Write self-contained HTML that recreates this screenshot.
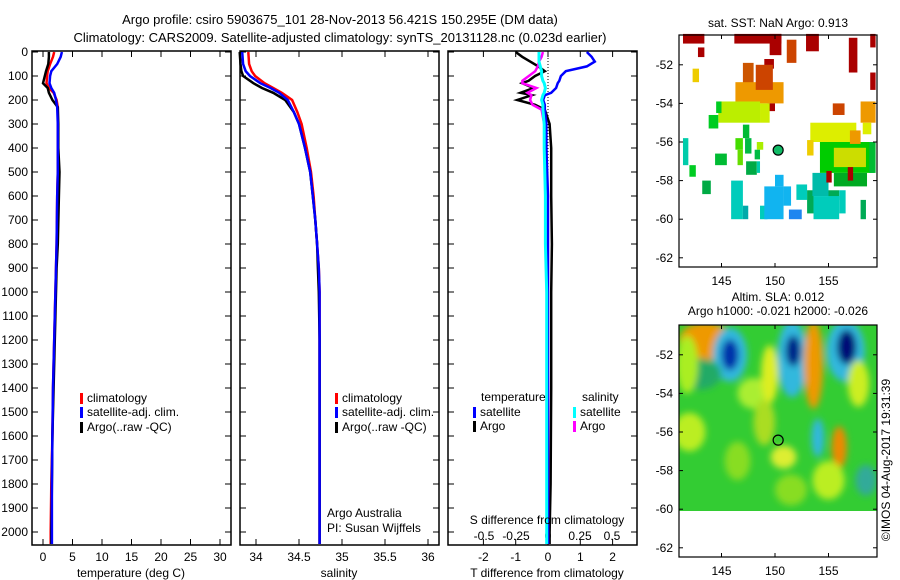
<!DOCTYPE html>
<html><head><meta charset="utf-8">
<style>
html,body{margin:0;padding:0;background:#fff;}
svg{display:block;font-family:"Liberation Sans",sans-serif;}
text{font-size:12px;fill:#000;}
</style></head>
<body>
<svg id="fig" width="900" height="580" viewBox="0 0 900 580" xmlns="http://www.w3.org/2000/svg">
<defs>
<filter id="blur" x="-20%" y="-20%" width="140%" height="140%"><feGaussianBlur stdDeviation="3.5"/></filter>
<clipPath id="slaclip"><rect x="679" y="325" width="198" height="186"/></clipPath>
</defs>
<text x="340" y="24" text-anchor="middle" style="font-size:13px">Argo profile: csiro 5903675_101 28-Nov-2013 56.421S 150.295E (DM data)</text>
<text x="340" y="42" text-anchor="middle" style="font-size:13px">Climatology: CARS2009. Satellite-adjusted climatology: synTS_20131128.nc (0.023d earlier)</text>
<g id="plots"></g>
<text transform="translate(890,460) rotate(-90)" text-anchor="middle">©IMOS 04-Aug-2017 19:31:39</text>
</svg>
<script>
// ---- data ----
const depthsT = [0,20,50,80,100,130,150,170,200,230,300,400,500,600,800,900,1000,1200,1400,1600,1800,2000,2050];
const tempClim = [1.9,1.7,1.2,0.8,0.7,0.6,1.0,1.8,2.3,2.5,2.5,2.5,2.5,2.4,2.3,2.2,2.1,1.9,1.7,1.6,1.4,1.3,1.3];
const tempSat  = [3.2,3.0,2.4,1.4,1.2,1.1,1.4,1.9,2.2,2.4,2.5,2.5,2.5,2.4,2.3,2.2,2.1,1.9,1.7,1.6,1.5,1.5,1.5];
const tempArgo = [1.0,1.0,0.9,0.5,0.3,0.0,0.8,1.0,1.6,2.5,2.6,2.6,2.8,2.7,2.5,2.3,2.2,2.0,1.8,1.6,1.5,1.4,1.4];
const depthsS = [0,50,80,100,130,150,170,200,250,300,400,500,600,700,800,900,1000,1200,1500,1800,2000,2050];
const salClim = [33.91,33.92,33.95,33.99,34.10,34.20,34.30,34.42,34.48,34.53,34.59,34.64,34.67,34.69,34.71,34.73,34.74,34.74,34.74,34.74,34.74,34.74];
const salSat  = [33.84,33.85,33.88,33.93,34.05,34.17,34.27,34.37,34.44,34.50,34.57,34.63,34.66,34.69,34.71,34.73,34.74,34.74,34.74,34.74,34.74,34.74];
const salArgo = [33.81,33.82,33.83,33.85,33.97,34.07,34.20,34.34,34.44,34.50,34.57,34.63,34.66,34.69,34.71,34.72,34.73,34.74,34.74,34.74,34.74,34.74];
const depthsD = [0,20,40,60,80,100,120,130,150,170,180,200,220,240,300,400,600,800,1000,1400,1800,2000,2050];
const dTsat   = [1.2,1.35,1.45,1.2,0.55,0.4,0.35,0.3,0.25,0.1,-0.1,-0.15,-0.1,-0.1,-0.05,-0.05,0.0,0.0,0.0,0.0,0.0,0.0,0.0];
const dTargo  = [-1.0,-0.8,-0.55,-0.3,-0.1,-0.4,-0.6,-0.8,-0.45,-0.85,-0.5,-0.95,-0.4,-0.1,0.05,0.1,0.1,0.12,0.1,0.1,0.08,0.05,0.05];
const dSsat   = [-0.07,-0.07,-0.07,-0.06,-0.05,-0.05,-0.04,-0.03,-0.02,-0.03,-0.04,-0.05,-0.04,-0.04,-0.03,-0.03,-0.02,-0.02,-0.01,-0.01,-0.01,-0.01,-0.01];
const dSargo  = [-0.04,-0.05,-0.07,-0.08,-0.1,-0.15,-0.2,-0.2,-0.09,-0.16,-0.13,-0.14,-0.12,-0.05,-0.03,-0.02,-0.01,-0.01,-0.01,0.0,0.0,0.0,0.0];
const depthTicks = [0,100,200,300,400,500,600,700,800,900,1000,1100,1200,1300,1400,1500,1600,1700,1800,1900,2000];
const tempTicks = [0,5,10,15,20,25,30];
const salTicks = [34,34.5,35,35.5,36];
const salTickLabels = ["34","34.5","35","35.5","36"];
const dTTicks = [-2,-1,0,1,2];
const dSTicks = [-0.5,-0.25,0,0.25,0.5];
const dSTickLabels = ["-0.5","-0.25","0","0.25","0.5"];
const lonTicks = [145,150,155];
const latTicks = [-52,-54,-56,-58,-60,-62];
// SST patches: [lon0, lat0, lon1, lat1, color]
const sstPatches = [
 [141.4,-50.4,143.4,-50.9,"#aa0000"],[146.2,-50.4,150.6,-50.9,"#aa0000"],[149.5,-50.4,150.6,-51.5,"#aa0000"],
 [151.1,-50.7,152,-51.9,"#cc4400"],[152.9,-50.4,154.1,-51.3,"#aa0000"],[156.9,-50.6,157.7,-52.4,"#aa0000"],
 [158.9,-50.4,159.4,-51.1,"#aa0000"],[158.9,-52.4,159.4,-53.3,"#aa0000"],[142.8,-51.1,143.4,-51.6,"#aa0000"],
 [149.0,-51.7,149.9,-52.2,"#aa0000"],[147.0,-51.9,148.0,-53.0,"#cc5500"],[146.3,-52.9,150.8,-54.0,"#ee9900"],
 [148.2,-52.0,149.8,-53.3,"#cc4400"],[142.3,-52.2,142.9,-52.9,"#eecc00"],[144.7,-53.9,148.6,-55.0,"#bbee00"],
 [144.5,-53.9,145.0,-54.5,"#00cc22"],[149.3,-54.0,150.0,-54.4,"#aa0000"],[148.6,-54.0,149.5,-55.0,"#ccee00"],
 [143.8,-54.6,144.7,-55.3,"#00cc22"],[147.0,-55.1,147.6,-55.8,"#00bb33"],[146.3,-55.8,147.0,-56.4,"#44dd00"],
 [147.2,-55.8,147.8,-56.6,"#00bb44"],[148.3,-56.0,148.9,-56.4,"#aaee00"],[148.1,-56.4,148.6,-56.9,"#00bb44"],
 [146.5,-56.4,147.0,-57.2,"#66dd00"],[144.4,-56.6,145.5,-57.2,"#00bb33"],[141.4,-55.8,141.9,-57.2,"#00ccaa"],
 [142.0,-57.2,142.6,-57.8,"#00cc22"],[143.2,-58.0,144.0,-58.7,"#00aa44"],[147.3,-57.0,148.3,-57.7,"#00aa44"],
 [148.3,-57.0,148.6,-57.6,"#00ccaa"],[145.9,-58.0,147.0,-60.0,"#00ccbb"],[147.0,-59.3,147.5,-60.0,"#00aaaa"],
 [148.6,-59.3,149.3,-60.0,"#00ccbb"],[149.0,-58.3,150.8,-60.0,"#11b4f0"],[150.8,-58.3,151.5,-59.3,"#11b4f0"],
 [151.3,-59.5,152.5,-60.0,"#1e86f0"],[150.0,-57.7,150.8,-58.3,"#11b4f0"],[152.0,-58.2,153.0,-59.0,"#00ccbb"],
 [153.0,-58.5,153.6,-59.7,"#00aa55"],[153.5,-57.6,155.0,-58.8,"#00bbaa"],[155.0,-58.5,156.0,-59.0,"#00aa55"],
 [153.6,-58.8,156.0,-60.0,"#00ccbb"],[156.0,-58.5,156.6,-59.7,"#00ccbb"],[158.0,-59.0,158.5,-60.0,"#00aa55"],
 [155.4,-54.0,156.5,-54.6,"#cc4400"],[153.3,-55.0,157.6,-56.0,"#ddee00"],[153.0,-55.9,153.6,-56.7,"#eecc00"],
 [154.2,-56.0,159.3,-57.6,"#00cc00"],[155.5,-56.3,158.5,-57.3,"#ccdd00"],[157.0,-55.4,158.0,-56.1,"#ee9900"],
 [158.0,-53.9,159.4,-55.0,"#ee9900"],[158.2,-55.0,159.0,-55.6,"#ddee00"],[155.5,-57.6,158.6,-58.3,"#00aa22"],
 [158.8,-56.0,159.4,-57.6,"#00bb33"],[154.8,-57.5,155.3,-58.1,"#aa0000"],[156.8,-57.3,157.3,-58.0,"#aa0000"]
];
// SLA features: [lon, lat, rx(deg), ry(deg), color]
const slaBlobs = [
 [143.5,-51.3,2.5,1.0,"#ee9900"],[145.8,-52.0,1.6,1.4,"#33b8dd"],[145.8,-52.0,0.8,0.8,"#0033aa"],
 [151.6,-52.2,1.4,2.0,"#33b8dd"],[151.7,-51.8,0.7,0.8,"#002288"],[156.6,-51.8,1.8,1.6,"#33b8dd"],
 [156.7,-51.6,0.9,0.9,"#001177"],[153.6,-52.5,0.9,2.3,"#ee9900"],[154.0,-56.3,0.6,1.0,"#33b8dd"],
 [156.0,-56.8,0.7,1.1,"#ee8800"],[150.8,-57.3,1.2,0.6,"#ddee33"],[142.0,-56.0,1.5,1.0,"#bbee22"],
 [148.0,-54.0,1.5,0.8,"#aaee33"],[155.0,-58.5,1.5,1.0,"#bbee22"],[143.0,-53.0,2.0,0.8,"#22aa66"],
 [158.5,-58.5,1.0,0.8,"#33aa99"],[149.0,-55.5,1.0,1.2,"#aadd22"],[141.8,-52.5,1.0,1.5,"#aaee22"],
 [149.5,-53.0,0.8,1.5,"#ddee22"],[157.8,-53.5,1.0,1.2,"#ccee22"],[146.5,-57.5,1.2,1.0,"#88dd22"],
 [151.5,-59.0,1.5,0.8,"#88dd22"]
];

// ---- helpers ----
const NS = "http://www.w3.org/2000/svg";
const root = document.getElementById("plots");
function mk(tag, attrs, parent){const e=document.createElementNS(NS,tag);for(const k in attrs)e.setAttribute(k,attrs[k]);(parent||root).appendChild(e);return e;}
function txt(x,y,s,anchor,parent){const t=mk("text",{x:x,y:y,"text-anchor":anchor||"start"},parent);t.textContent=s;return t;}
const yD = d => 52 + d*0.24;
const PT = 545;

function frame(x0,x1,name){
  const r=mk("rect",{x:x0,y:51,width:x1-x0,height:PT-51,fill:"none",stroke:"#000","stroke-width":1.5});
  
  
  depthTicks.forEach(d=>{mk("line",{x1:x0,x2:x0+6,y1:yD(d),y2:yD(d),stroke:"#000"});mk("line",{x1:x1-6,x2:x1,y1:yD(d),y2:yD(d),stroke:"#000"});});
}
function xticks(vals,labels,sx,x0,ly){
  vals.forEach((v,i)=>{const x=sx(v);mk("line",{x1:x,x2:x,y1:PT,y2:PT-6,stroke:"#000"});mk("line",{x1:x,x2:x,y1:51,y2:57,stroke:"#000"});
   const t=txt(x,ly,labels[i],"middle");});
}
function line(depths,vals,sx,color,name,w){
  const pts=depths.map((d,i)=>sx(vals[i]).toFixed(1)+","+yD(d).toFixed(1)).join(" ");
  const p=mk("polyline",{points:pts,fill:"none",stroke:color,"stroke-width":w||2.5});
  
  
}
function legend(x,y,color,label){
  mk("rect",{x:x,y:y-9,width:3,height:11,fill:color});
  const t=txt(x+7,y,label);
  
  
}

depthTicks.forEach(d=>{const t=txt(28,yD(d)+4,String(d),"end");});

// panel 1 temperature
const sT = v => 43 + v*5.9;
frame(32,231,"temperature-panel");
xticks(tempTicks,tempTicks.map(String),sT,32,561);
line(depthsT,tempClim,sT,"#ff0000","temp-climatology-line");
line(depthsT,tempArgo,sT,"#000000","temp-argo-line");
line(depthsT,tempSat,sT,"#0000ff","temp-satellite-line");
let t=txt(131,577,"temperature (deg C)","middle");
legend(80,402,"#ff0000","climatology");legend(80,416,"#0000ff","satellite-adj. clim.");legend(80,431,"#000","Argo(..raw -QC)");

// panel 2 salinity
const sS = v => 256 + (v-34)*86;
frame(240,439,"salinity-panel");
xticks(salTicks,salTickLabels,sS,240,561);
line(depthsS,salClim,sS,"#ff0000","sal-climatology-line");
line(depthsS,salArgo,sS,"#000000","sal-argo-line");
line(depthsS,salSat,sS,"#0000ff","sal-satellite-line");
t=txt(339,577,"salinity","middle");
legend(335,402,"#ff0000","climatology");legend(335,416,"#0000ff","satellite-adj. clim.");legend(335,431,"#000","Argo(..raw -QC)");
t=txt(327,517,"Argo Australia");
t=txt(327,532,"PI: Susan Wijffels");

// panel 3 differences
const sdT = v => 548 + v*32.3;
const sdS = v => 548 + v*128;
frame(448,637,"difference-panel");
xticks(dTTicks,dTTicks.map(String),sdT,448,561);
dSTicks.forEach((v,i)=>{const tt=txt(sdS(v),540,dSTickLabels[i],"middle");});
mk("line",{x1:548,x2:548,y1:52,y2:PT,stroke:"#000","stroke-dasharray":"1,2"});
line(depthsD,dTargo,sdT,"#000000","dT-argo-line");
line(depthsD,dSargo,sdS,"#ff00ff","dS-argo-line");
line(depthsD,dTsat,sdT,"#0000ff","dT-satellite-line");
line(depthsD,dSsat,sdS,"#00ffff","dS-satellite-line",3);
t=txt(547,524,"S difference from climatology","middle");
t=txt(547,577,"T difference from climatology","middle");
t=txt(481,401,"temperature");
t=txt(582,401,"salinity");
legend(473,416,"#0000ff","satellite");legend(473,430,"#000","Argo");
legend(573,416,"#00ffff","satellite");legend(573,430,"#ff00ff","Argo");

// ---- maps ----
function mapAxes(top){
  const mx = lon => 775 + (lon-150)*10.7;
  const my = lat => top + 107 + (-56-lat)*19.3;
  return {mx,my};
}
function drawMapFrame(top,mx,my,name){
  const r=mk("rect",{x:679,y:top,width:198,height:232,fill:"none",stroke:"#000","stroke-width":1.2});
  
  
  lonTicks.forEach(l=>{const x=mx(l);mk("line",{x1:x,x2:x,y1:top,y2:top+4,stroke:"#000"});mk("line",{x1:x,x2:x,y1:top+232,y2:top+228,stroke:"#000"});
    const t=txt(x,top+250,String(l),"middle");});
  latTicks.forEach(l=>{const y=my(l);mk("line",{x1:679,x2:683,y1:y,y2:y,stroke:"#000"});mk("line",{x1:873,x2:877,y1:y,y2:y,stroke:"#000"});
    const t=txt(673,y+4,String(l),"end");});
}
// SST map
(function(){
  const top=35; const {mx,my}=mapAxes(top);
  let tt=txt(778,27,"sat. SST: NaN Argo: 0.913","middle");
  sstPatches.forEach(p=>{
    const r=mk("rect",{x:mx(p[0]),y:my(p[1]),width:mx(p[2])-mx(p[0]),height:my(p[3])-my(p[1]),fill:p[4]});
    
    
  });
  const c=mk("circle",{cx:mx(150.295),cy:my(-56.421),r:5,fill:"#11bb66",stroke:"#000","stroke-width":1.2});
  
  drawMapFrame(top,mx,my,"sst-map-frame");
})();
// SLA map
(function(){
  const top=325; const {mx,my}=mapAxes(top);
  let tt=txt(778,301,"Altim. SLA: 0.012","middle");
  tt=txt(778,315,"Argo h1000: -0.021 h2000: -0.026","middle");
  const g=mk("g",{"clip-path":"url(#slaclip)"});
  mk("rect",{x:679,y:325,width:198,height:186,fill:"#33cc33"},g);
  const gb=mk("g",{filter:"url(#blur)"},g);
  slaBlobs.forEach(b=>{
    const e=mk("ellipse",{cx:mx(b[0]),cy:my(b[1]),rx:b[2]*10.7,ry:b[3]*19.3,fill:b[4]},gb);
    
    
  });
  const c=mk("circle",{cx:mx(150.295),cy:my(-56.421),r:5,fill:"none",stroke:"#000","stroke-width":1.2});
  
  drawMapFrame(top,mx,my,"sla-map-frame");
})();
</script>
</body></html>
